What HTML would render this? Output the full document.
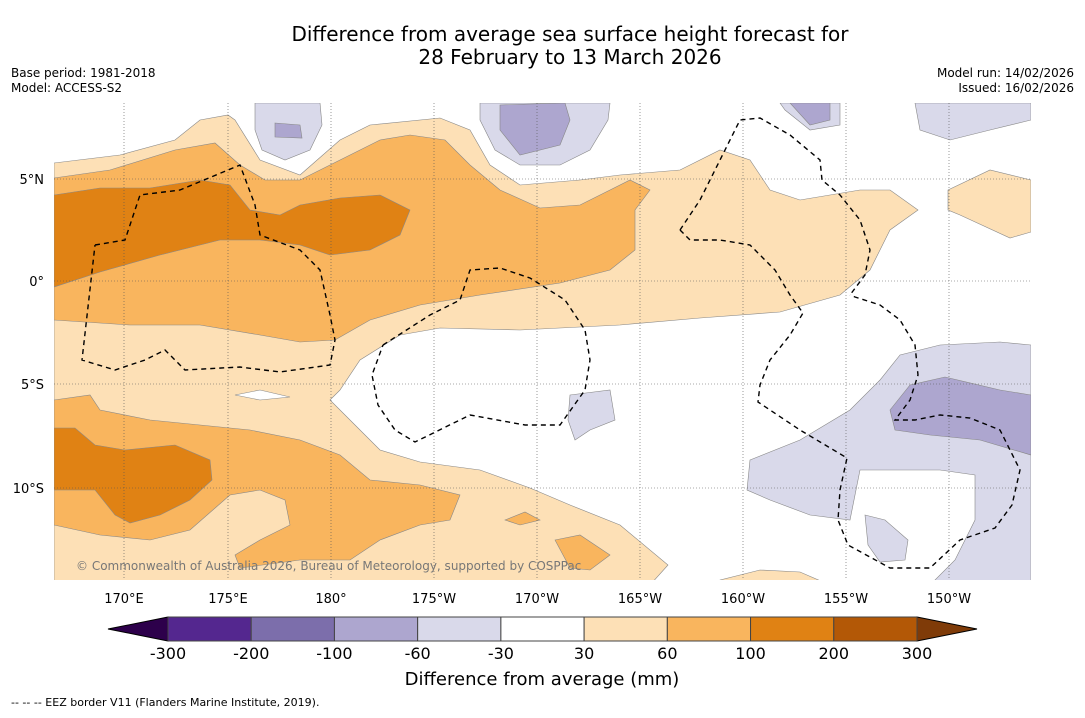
<!DOCTYPE html>
<html><head><meta charset="utf-8"><style>
body{margin:0;background:#fff;font-family:"Liberation Sans","DejaVu Sans",sans-serif;}
svg text{font-family:"DejaVu Sans","Liberation Sans",sans-serif;}
</style></head><body>
<svg id="s" width="1085" height="713" viewBox="0 0 1085 713">
<rect width="1085" height="713" fill="#fff"/>
<text x="570" y="41" font-size="20" text-anchor="middle">Difference from average sea surface height forecast for</text>
<text x="570" y="64" font-size="20" text-anchor="middle">28 February to 13 March 2026</text>
<text x="11" y="77" font-size="12">Base period: 1981-2018</text>
<text x="11" y="92" font-size="12">Model: ACCESS-S2</text>
<text x="1074" y="77" font-size="12" text-anchor="end">Model run: 14/02/2026</text>
<text x="1074" y="92" font-size="12" text-anchor="end">Issued: 16/02/2026</text>
<defs><clipPath id="mc"><rect x="54" y="103" width="977" height="477"/></clipPath></defs>
<g clip-path="url(#mc)">
<g stroke="#888" stroke-width="0.6">
<polygon fill="#fde0b6" points="54,163 120,155 175,140 200,120 228,115 235,120 260,160 300,175 340,140 370,125 440,118 470,130 490,165 520,185 580,180 620,175 680,170 720,150 750,160 770,190 800,200 860,190 890,190 918,210 890,230 870,270 840,295 780,312 700,318 620,325 520,330 440,328 400,335 360,360 340,390 330,400 360,430 380,450 420,462 480,470 530,488 570,505 620,525 668,565 650,585 54,585"/>
<polygon fill="#fff" points="235,395 260,390 290,397 260,400"/>
<polygon fill="#fde0b6" points="948,190 990,170 1031,180 1031,232 1010,238 960,215 948,210"/>
<polygon fill="#fde0b6" points="720,580 760,570 800,572 830,585 720,585"/>
<polygon fill="#f9b55e" points="54,178 110,170 175,150 215,143 240,165 265,180 300,180 340,160 380,140 410,135 445,140 470,165 500,190 540,208 580,205 610,190 630,180 650,190 635,210 635,250 610,270 560,283 480,295 420,305 370,320 335,340 300,342 260,335 200,325 130,325 54,320"/>
<polygon fill="#f9b55e" points="54,400 90,395 100,410 150,420 200,425 250,430 300,440 340,455 370,480 420,485 460,495 450,520 420,525 380,540 350,560 300,560 240,568 235,555 260,540 290,525 285,500 260,490 230,495 190,530 150,540 100,535 54,525"/>
<polygon fill="#f9b55e" points="505,520 525,512 540,520 520,525"/>
<polygon fill="#f9b55e" points="555,540 580,535 610,555 590,570 570,568"/>
<polygon fill="#e08214" points="54,195 100,188 150,188 200,180 230,185 250,210 280,215 300,205 340,198 380,195 410,210 400,235 370,250 330,255 300,245 260,240 220,240 160,255 100,272 54,287"/>
<polygon fill="#e08214" points="54,428 75,428 95,445 125,450 175,445 210,460 212,480 190,500 160,515 130,523 115,515 95,490 54,490"/>
<polygon fill="#d9d9ea" points="255,103 320,103 322,125 310,150 285,160 262,150 255,130"/>
<polygon fill="#d9d9ea" points="480,103 610,103 608,120 590,150 560,165 520,165 495,150 480,120"/>
<polygon fill="#d9d9ea" points="780,103 840,103 840,125 810,130 785,110"/>
<polygon fill="#d9d9ea" points="915,103 1031,103 1031,120 990,130 950,140 920,130"/>
<polygon fill="#d9d9ea" points="570,395 610,390 615,420 590,430 575,440 568,420"/>
<polygon fill="#d9d9ea" points="750,460 800,440 850,410 880,380 900,355 940,345 1000,342 1031,345 1031,585 930,585 955,560 975,520 975,475 940,470 860,470 850,520 810,515 770,500 747,490"/>
<polygon fill="#d9d9ea" points="865,515 885,520 908,540 905,560 880,562 868,545"/>
<polygon fill="#ada6cf" points="275,123 300,125 302,138 275,137"/>
<polygon fill="#ada6cf" points="500,105 565,103 570,120 560,145 520,155 500,130"/>
<polygon fill="#ada6cf" points="790,103 830,103 830,120 810,125"/>
<polygon fill="#ada6cf" points="890,410 910,385 945,377 1000,390 1031,395 1031,455 980,440 930,435 895,430"/>
</g>
<g stroke="#555" stroke-width="0.6" stroke-dasharray="1,2">
<line x1="124" y1="103" x2="124" y2="580"/><line x1="228" y1="103" x2="228" y2="580"/><line x1="331" y1="103" x2="331" y2="580"/><line x1="434" y1="103" x2="434" y2="580"/><line x1="537" y1="103" x2="537" y2="580"/><line x1="640" y1="103" x2="640" y2="580"/><line x1="743" y1="103" x2="743" y2="580"/><line x1="846" y1="103" x2="846" y2="580"/><line x1="949" y1="103" x2="949" y2="580"/>
<line x1="54" y1="179" x2="1031" y2="179"/><line x1="54" y1="281" x2="1031" y2="281"/><line x1="54" y1="384" x2="1031" y2="384"/><line x1="54" y1="488" x2="1031" y2="488"/>
</g>
<g fill="none" stroke="#000" stroke-width="1.4" stroke-dasharray="5,4">
<polyline points="95,245 125,240 140,195 180,190 240,165 255,205 260,235 300,250 320,270 330,315 335,340 330,365 280,372 240,367 185,370 165,350 145,360 115,370 82,360 95,245"/>
<polyline points="383,345 430,315 460,300 470,270 500,268 530,278 565,300 585,330 590,360 585,390 560,425 525,425 470,415 415,442 395,430 378,405 372,375 383,345"/>
<polyline points="680,230 700,200 720,160 740,120 760,118 790,135 820,160 822,180 840,195 860,220 870,250 865,275 850,295"/>
<polyline points="680,230 690,240 720,240 750,245 775,270 790,295 803,313 790,335 770,360 760,385 758,402 800,430 847,458 840,490 838,520 848,545 890,568 930,568 960,540 995,528 1012,505 1020,470 1000,430 970,418 940,415 915,420 895,420 910,400 918,375 915,345 900,320 880,305 855,297 850,295"/>
</g>
<text x="76" y="570" font-size="12" fill="#777">© Commonwealth of Australia 2026, Bureau of Meteorology, supported by COSPPac</text>
</g>
<g font-size="13">
<text x="124" y="603" text-anchor="middle">170°E</text><text x="228" y="603" text-anchor="middle">175°E</text><text x="331" y="603" text-anchor="middle">180°</text><text x="434" y="603" text-anchor="middle">175°W</text><text x="537" y="603" text-anchor="middle">170°W</text><text x="640" y="603" text-anchor="middle">165°W</text><text x="743" y="603" text-anchor="middle">160°W</text><text x="846" y="603" text-anchor="middle">155°W</text><text x="949" y="603" text-anchor="middle">150°W</text>
<text x="44" y="184" text-anchor="end">5°N</text><text x="44" y="286" text-anchor="end">0°</text><text x="44" y="389" text-anchor="end">5°S</text><text x="44" y="493" text-anchor="end">10°S</text>
</g>
<g id="cb"></g>
<text x="542" y="685" font-size="18" text-anchor="middle">Difference from average (mm)</text>
<text x="11" y="706" font-size="11">--  --  -- EEZ border V11 (Flanders Marine Institute, 2019).</text>
</svg>
<script>
const levels=["-300","-200","-100","-60","-30","30","60","100","200","300"];
const colors=["#54278f","#7c6eab","#ada6cf","#d9d9ea","#ffffff","#fde0b6","#f9b55e","#e08214","#b35806"];
const ns="http://www.w3.org/2000/svg",cb=document.getElementById('cb');
const x0=168,x1=917,y0=617,h=24,w=(x1-x0)/colors.length;
function mk(t,a){const e=document.createElementNS(ns,t);for(const k in a)e.setAttribute(k,a[k]);cb.appendChild(e);return e;}
let tl=mk('polygon',{points:`108,${y0+h/2} ${x0},${y0} ${x0},${y0+h}`,fill:'#2d004b',stroke:'#000'});


let tr=mk('polygon',{points:`977,${y0+h/2} ${x1},${y0} ${x1},${y0+h}`,fill:'#7f3b08',stroke:'#000'});


colors.forEach((c,i)=>{const r=mk('rect',{x:x0+i*w,y:y0,width:w,height:h,fill:c,stroke:'#444','stroke-width':1});

});
levels.forEach((l,i)=>{const t=mk('text',{x:x0+i*w,y:659,'font-size':16,'text-anchor':'middle'});t.textContent=l;

});
</script>
</body></html>
